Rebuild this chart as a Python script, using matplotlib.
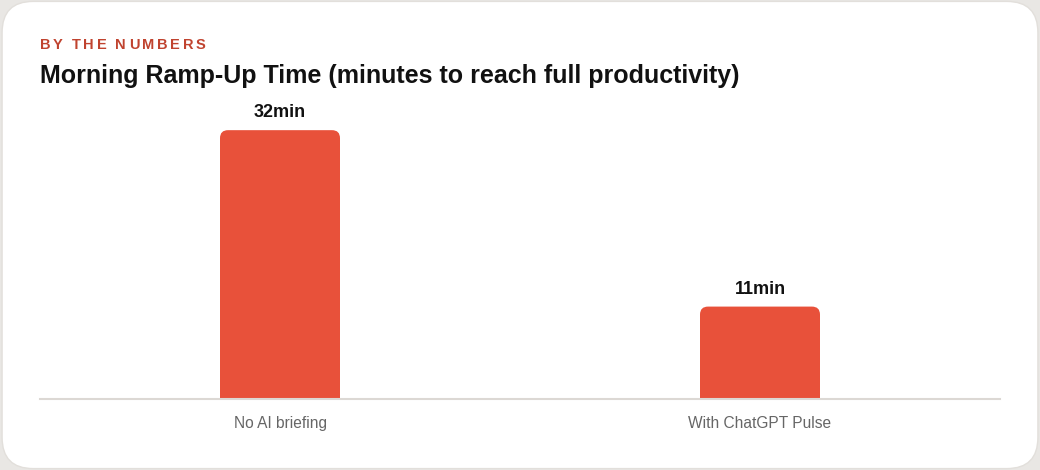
import matplotlib
matplotlib.use("Agg")
import matplotlib.pyplot as plt
from matplotlib.patches import FancyBboxPatch

# data
categories = ["No AI briefing", "With ChatGPT Pulse"]
minutes = [32, 11]
value_labels = ["32min", "11min"]

eyebrow = "BY THE NUMBERS"
title = "Morning Ramp-Up Time (minutes to reach full productivity)"

BAR_COLOR = "#e8513a"
ACCENT = "#c0432f"

plt.rcParams["font.family"] = ["Liberation Sans", "DejaVu Sans"]

fig = plt.figure(figsize=(10.4, 4.7), dpi=100)
fig.patch.set_facecolor("#e9e7e4")

# card
card = FancyBboxPatch((0.002, 0.003), 0.996, 0.994,
                      boxstyle="round,pad=0,rounding_size=0.03",
                      mutation_aspect=1040 / 470,
                      transform=fig.transFigure, facecolor="white",
                      edgecolor="#e2dfdb", linewidth=1.0, zorder=-5)
fig.patches.append(card)

ax = fig.add_axes([40 / 1040, 71 / 470, 960 / 1040, 289 / 470])
ax.set_zorder(2)
ax.set_facecolor("none")
x = list(range(len(categories)))
bars = ax.bar(x, minutes, width=0.25, color="none")

ax.set_xlim(-0.5, 1.5)
ax.set_ylim(0, 34.4)

# rounded bars built from the bar geometry
r_x = 8 / 480
r_y = 8 / 8.4
for b in bars:
    patch = FancyBboxPatch((b.get_x(), -r_y * 2), b.get_width(), b.get_height() + r_y * 2,
                           boxstyle="round,pad=0,rounding_size=%f" % r_x,
                           mutation_aspect=r_y / r_x,
                           facecolor=BAR_COLOR, edgecolor="none", zorder=2)
    ax.add_patch(patch)

for xi, v, lab in zip(x, minutes, value_labels):
    ax.annotate(lab, (xi, v), xytext=(0, 6.5), textcoords="offset points",
                ha="center", va="bottom", fontsize=13, fontweight="bold",
                color="#111111")

for s in ["top", "right", "left"]:
    ax.spines[s].set_visible(False)
ax.spines["bottom"].set_color("#dcd8d4")
ax.spines["bottom"].set_linewidth(1.5)
ax.spines["bottom"].set_zorder(3)
ax.set_yticks([])
ax.set_xticks(x)
ax.set_xticklabels(categories, fontsize=11.2, color="#666666")
ax.tick_params(axis="x", length=0, pad=12)

# eyebrow with letter spacing
fig.canvas.draw()
renderer = fig.canvas.get_renderer()
px = 40
for ch in eyebrow:
    t = fig.text(px / 1040, 1 - 45 / 470, ch, fontsize=10.5, fontweight="bold",
                 color=ACCENT, va="center", ha="left")
    w = t.get_window_extent(renderer).width if ch != " " else 3.5
    px += w + 2.7

fig.text(40 / 1040, 1 - 76 / 470, title, fontsize=18, fontweight="bold",
         color="#111111", va="center", ha="left")

fig.savefig("out.png", dpi=100, facecolor=fig.get_facecolor())
